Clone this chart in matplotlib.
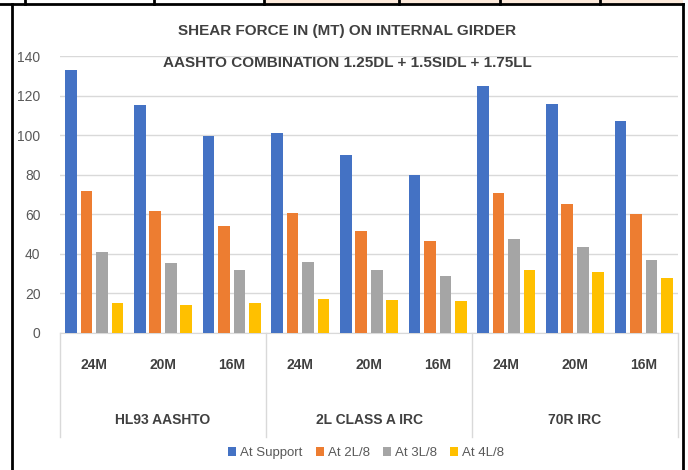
import numpy as np
import matplotlib.pyplot as plt
from matplotlib.lines import Line2D
from matplotlib.patches import Rectangle
import matplotlib.transforms as mtransforms

plt.rcParams['font.family'] = ['Liberation Sans Narrow', 'Liberation Sans', 'DejaVu Sans']

# 数据
spans = ['24M', '20M', '16M', '24M', '20M', '16M', '24M', '20M', '16M']
groups = ['HL93 AASHTO', '2L CLASS A IRC', '70R IRC']
series = ['At Support', 'At 2L/8', 'At 3L/8', 'At 4L/8']
at_support = [133, 115, 99.5, 101, 90, 80, 125, 115.5, 107]
at_2l8 = [72, 61.5, 54, 60.5, 51.5, 46.5, 71, 65, 60]
at_3l8 = [41, 35.5, 32, 36, 32, 29, 47.5, 43.5, 37]
at_4l8 = [15, 14, 15, 17, 16.5, 16, 32, 31, 28]
colors = ['#4472C4', '#ED7D31', '#A5A5A5', '#FFC000']

fig = plt.figure(figsize=(6.88, 4.70), dpi=100)
W, H = 688, 470

# 文档表格边框
fig.patches.append(Rectangle((264 / W, 1 - 4 / H), (683 - 264) / W, 4 / H,
                             transform=fig.transFigure, facecolor='#fdeadb', edgecolor='none'))
for x0 in [25, 154, 264, 399, 500, 600]:
    fig.lines.append(Line2D([x0 / W, x0 / W], [1 - 4 / H, 1], transform=fig.transFigure,
                            color='black', lw=2))
fig.lines.append(Line2D([0, 683 / W], [1 - 4 / H, 1 - 4 / H], transform=fig.transFigure, color='black', lw=2))
fig.lines.append(Line2D([12 / W, 12 / W], [0, 1 - 4 / H], transform=fig.transFigure, color='black', lw=2))
fig.lines.append(Line2D([683 / W, 683 / W], [0, 1 - 4 / H], transform=fig.transFigure, color='black', lw=2))

ax = fig.add_axes([60 / W, 1 - 333 / H, (678 - 60) / W, (333 - 56) / H])
x = np.arange(len(spans))
pitch = 0.225
width = 0.17
for i, (vals, name) in enumerate(zip([at_support, at_2l8, at_3l8, at_4l8], series)):
    ax.bar(x + (i - 1.5) * pitch, vals, width, color=colors[i], label=name, zorder=3)

ax.set_xlim(-0.5, 8.5)
ax.set_ylim(0, 140)
ax.set_yticks(range(0, 141, 20))
ax.grid(axis='y', color='#d9d9d9', lw=1, zorder=0)
for s in ['top', 'right', 'left']:
    ax.spines[s].set_visible(False)
ax.spines['bottom'].set_color('#d9d9d9')
ax.tick_params(axis='y', length=0, labelsize=10, labelcolor='#595959', pad=14)
ax.tick_params(axis='x', length=0)
ax.set_xticks(x)
ax.set_xticklabels(spans, fontsize=10, fontweight='bold', color='#404040')
ax.tick_params(axis='x', pad=18)

# 分组标签和分隔线
trans = mtransforms.blended_transform_factory(ax.transData, ax.transAxes)
bottom = -(437 - 333) / (333 - 56)
for xs in [-0.5, 2.5, 5.5, 8.5]:
    ax.add_line(Line2D([xs, xs], [0, bottom], transform=trans, color='#d9d9d9', lw=1, clip_on=False))
for j, g in enumerate(groups):
    ax.text(j * 3 + 1, -(420 - 333) / (333 - 56), g, transform=trans, ha='center', va='center',
            fontsize=10, fontweight='bold', color='#404040')

fig.text(347 / W, 1 - 31 / H, 'SHEAR FORCE IN (MT) ON INTERNAL GIRDER', ha='center', va='center',
         fontsize=11, fontweight='bold', color='#404040')
fig.text(347 / W, 1 - 63 / H, 'AASHTO COMBINATION 1.25DL + 1.5SIDL + 1.75LL', ha='center', va='center',
         fontsize=11, fontweight='bold', color='#404040')

fig.legend(loc='center', bbox_to_anchor=(366 / W, 1 - 453 / H), ncol=4, frameon=False,
           fontsize=9.5, handlelength=0.6, handleheight=0.6, handletextpad=0.3, columnspacing=1.0,
           labelcolor='#595959')

fig.savefig('out.png', dpi=100)
